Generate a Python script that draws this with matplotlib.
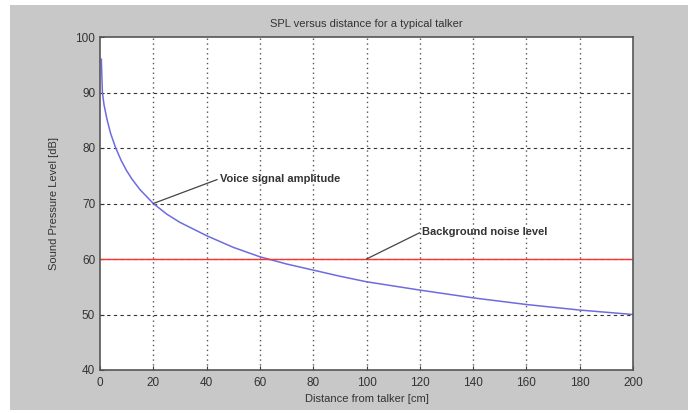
import matplotlib
matplotlib.use('Agg')
import matplotlib.pyplot as plt
from matplotlib.patches import Rectangle

# values
distance = [0.5, 0.9, 1.5, 2.7, 4, 5.9, 8, 10, 12, 15, 20, 25, 30, 40, 50, 60, 70, 80, 90,
            100, 120, 140, 160, 180, 200]
spl = [96, 90, 87.8, 85, 82.6, 80, 77.7, 75.9, 74.4, 72.5, 70, 68.1, 66.6, 64.2, 62.1, 60.4,
       59.1, 58, 56.9, 55.9, 54.4, 53, 51.8, 50.8, 50]
noise_level = 60
x_ticks = [0, 20, 40, 60, 80, 100, 120, 140, 160, 180, 200]
y_ticks = [40, 50, 60, 70, 80, 90, 100]

plt.rcParams['font.family'] = ['Liberation Sans', 'DejaVu Sans']

fig = plt.figure(figsize=(6.88, 4.13), dpi=100)
fig.patch.set_facecolor('white')
# grey figure panel (white strip on the left / top)
fig.patches.append(Rectangle((10 / 688, 3 / 413), 1, 1 - 8 / 413, transform=fig.transFigure,
                             facecolor='#c8c8c8', edgecolor='none', zorder=-1))

ax = fig.add_axes([100 / 688, 1 - 370 / 413, 533 / 688, 333 / 413])
ax.set_facecolor('white')

ax.plot(distance, spl, color='#6c6ce0', lw=1.1)
ax.axhline(noise_level, color='#ff3030', lw=1)

ax.set_xlim(0, 200)
ax.set_ylim(40, 100)
ax.set_xticks(x_ticks)
ax.set_yticks(y_ticks)
ax.tick_params(labelsize=8.5, colors='#333333', length=3, direction='in')
ax.tick_params(axis='x', pad=5)

for y in y_ticks[1:-1]:
    ax.axhline(y, color='#333333', lw=0.8, ls=(0, (3, 3)), zorder=0)
for x in x_ticks[1:-1]:
    ax.axvline(x, color='#555555', lw=1.0, ls=(0, (1, 2.5)), zorder=0)

for s in ax.spines.values():
    s.set_color('#555555')
    s.set_linewidth(1.2)

ax.set_title('SPL versus distance for a typical talker', fontsize=8, color='#333333', pad=7)
ax.set_xlabel('Distance from talker [cm]', fontsize=8, color='#333333', labelpad=4)
ax.set_ylabel('Sound Pressure Level [dB]', fontsize=8, color='#333333', labelpad=12)

ax.annotate('Voice signal amplitude', xy=(20, 70), xytext=(45, 74.5),
            fontsize=8, fontweight='bold', color='#333333', va='center',
            arrowprops=dict(arrowstyle='-', color='#444444', lw=0.9,
                            shrinkA=0, shrinkB=0, relpos=(0, 0.5)))
ax.annotate('Background noise level', xy=(100, 60), xytext=(121, 64.8),
            fontsize=8, fontweight='bold', color='#333333', va='center',
            arrowprops=dict(arrowstyle='-', color='#444444', lw=0.9,
                            shrinkA=0, shrinkB=0, relpos=(0, 0.6)))

fig.savefig('out.png', dpi=100)
